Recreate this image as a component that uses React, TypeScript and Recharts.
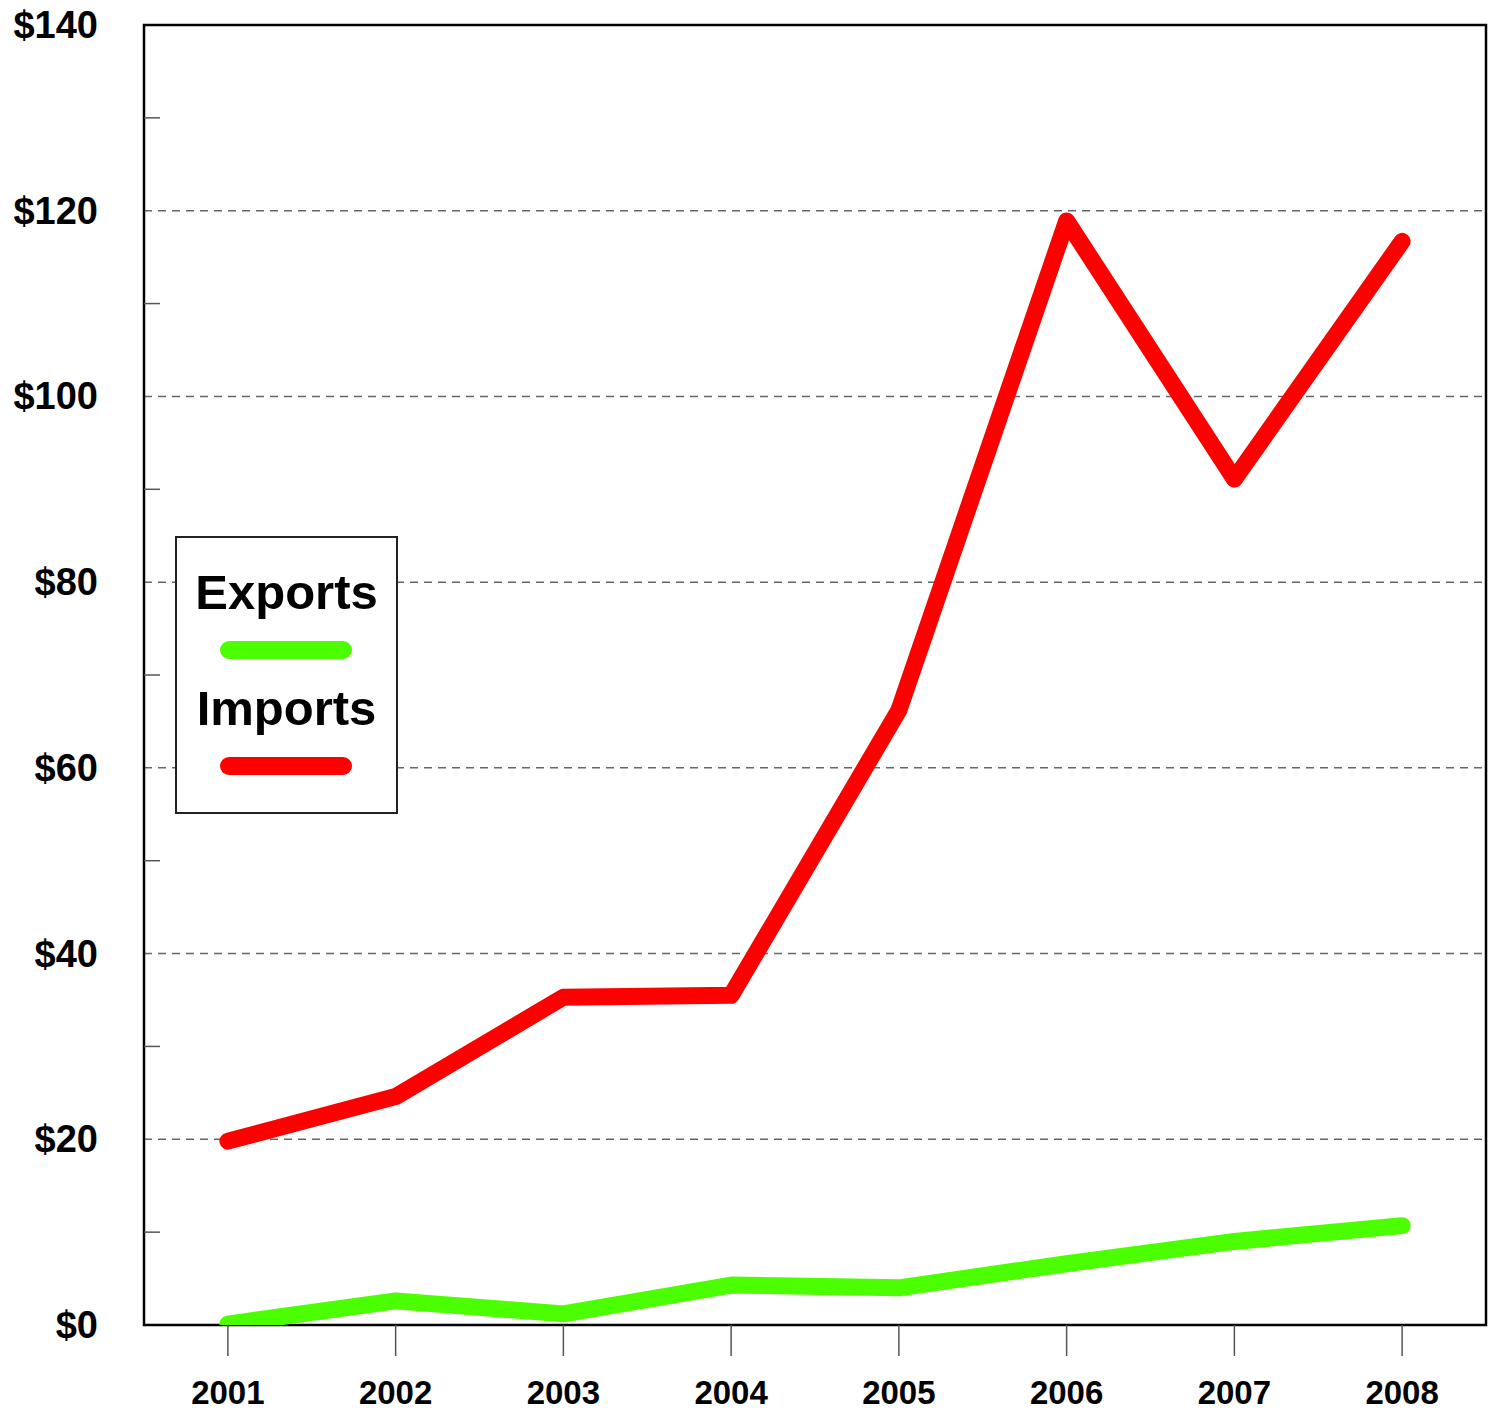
import {
  LineChart,
  Line,
  XAxis,
  YAxis,
  CartesianGrid,
  ReferenceArea
} from "recharts";

const years = [2001, 2002, 2003, 2004, 2005, 2006, 2007, 2008];
const exportsVals = [0.1, 2.6, 1.2, 4.3, 4.0, 6.6, 9.0, 10.7];
const importsVals = [19.8, 24.6, 35.3, 35.5, 66.2, 118.9, 91.1, 116.7];
const yTicks = [0, 10, 20, 30, 40, 50, 60, 70, 80, 90, 100, 110, 120, 130, 140];
const gridValues = [20, 40, 60, 80, 100, 120];

const data = years.map((y, i) => ({
  year: y,
  exports: exportsVals[i],
  imports: importsVals[i]
}));

const font = "'Liberation Sans', Arial, sans-serif";

const YTick = (props: any) => {
  const { x, y, payload } = props;
  if (payload.value % 20 !== 0) {
    return <line x1={x} x2={x + 16} y1={y} y2={y} stroke="#555" strokeWidth={1.5} />;
  }
  return (
    <text x={x - 46} y={y + 13} textAnchor="end" fontFamily={font} fontWeight="bold" fontSize={38} fill="#000">
      ${payload.value}
    </text>
  );
};

const XTick = (props: any) => {
  const { x, y, payload } = props;
  return (
    <text x={x} y={y + 46} textAnchor="middle" fontFamily={font} fontWeight="bold" fontSize={33} fill="#000">
      {payload.value}
    </text>
  );
};

// legend drawn as an overlay so it doesn't shrink the plot
const LegendBox = () => (
  <div
    style={{
      position: "absolute",
      left: 175,
      top: 536,
      width: 219,
      height: 274,
      border: "2px solid #222",
      background: "#fff",
      fontFamily: font,
      fontWeight: "bold",
      fontSize: 49,
      textAlign: "center"
    }}
  >
    <div style={{ position: "absolute", left: 0, right: 0, top: 26, lineHeight: "56px" }}>Exports</div>
    <svg style={{ position: "absolute", left: 0, top: 98 }} width={219} height={30}>
      <line x1={52} x2={166} y1={14} y2={14} stroke="#4cff00" strokeWidth={18} strokeLinecap="round" />
    </svg>
    <div style={{ position: "absolute", left: 0, right: 0, top: 142, lineHeight: "56px" }}>Imports</div>
    <svg style={{ position: "absolute", left: 0, top: 214 }} width={219} height={30}>
      <line x1={52} x2={166} y1={14} y2={14} stroke="#ff0000" strokeWidth={18} strokeLinecap="round" />
    </svg>
  </div>
);

export default function App() {
  return (
    <div style={{ position: "absolute", left: 0, top: 0, width: 1496, height: 1410, background: "#fff" }}>
      <LineChart
        width={1496}
        height={1410}
        data={data}
        margin={{ top: 25, right: 10, bottom: 0, left: 0 }}
      >
        <CartesianGrid
          vertical={false}
          horizontalValues={gridValues}
          stroke="#666"
          strokeWidth={1.5}
          strokeDasharray="8 6"
        />
        <XAxis
          dataKey="year"
          type="number"
          domain={[2000.5, 2008.5]}
          ticks={years}
          allowDataOverflow
          height={85}
          axisLine={false}
          tickLine={{ stroke: "#555", strokeWidth: 1.5 }}
          tickSize={31}
          tick={<XTick />}
          interval={0}
        />
        <YAxis
          type="number"
          domain={[0, 140]}
          ticks={yTicks}
          width={144}
          allowDataOverflow
          axisLine={false}
          tickLine={false}
          tickSize={0}
          tickMargin={0}
          tick={<YTick />}
          interval={0}
        />
        <ReferenceArea y1={0} y2={140} fill="none" stroke="#000" strokeWidth={2.5} ifOverflow="visible" />
        <Line
          type="linear"
          dataKey="imports"
          stroke="#ff0000"
          strokeWidth={17}
          strokeLinecap="round"
          strokeLinejoin="round"
          dot={false}
          activeDot={false}
          isAnimationActive={false}
        />
        <Line
          type="linear"
          dataKey="exports"
          stroke="#4cff00"
          strokeWidth={17}
          strokeLinecap="round"
          strokeLinejoin="round"
          dot={false}
          activeDot={false}
          isAnimationActive={false}
        />
      </LineChart>
      <LegendBox />
    </div>
  );
}
